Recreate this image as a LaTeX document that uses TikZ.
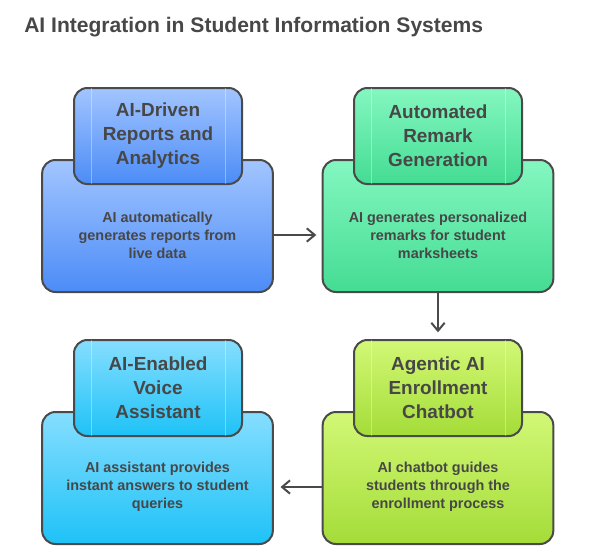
\documentclass[tikz,border=0pt]{standalone}
\usepackage{fontspec}
\setmainfont{Liberation Sans}
\usetikzlibrary{arrows.meta}
\definecolor{ink}{HTML}{474747}
\definecolor{edge}{HTML}{4A4A4A}
\definecolor{blueT}{HTML}{A2C5FF}
\definecolor{blueB}{HTML}{4C8CF7}
\definecolor{greenT}{HTML}{84F7C0}
\definecolor{greenB}{HTML}{44DC93}
\definecolor{limeT}{HTML}{D2F876}
\definecolor{limeB}{HTML}{A4DC38}
\definecolor{cyanT}{HTML}{86DEFF}
\definecolor{cyanB}{HTML}{1EC2F7}
\tikzset{
  bigbox/.style={draw=edge,line width=1.5pt,rounded corners=10pt,minimum width=173pt,minimum height=99pt},
  headbox/.style={bigbox,minimum width=126pt,minimum height=72pt,align=center,text=ink,font=\bfseries\fontsize{14.2}{18}\selectfont},
  bodytxt/.style={align=center,text=ink,font=\bfseries\fontsize{10.8}{13.5}\selectfont},
  flow/.style={-{Straight Barb[length=6pt,width=10pt]},line width=1.5pt,draw=edge,shorten >=4pt}
}
\begin{document}
\begin{tikzpicture}[x=0.75pt,y=-0.75pt]
        \useasboundingbox (0,0) rectangle (597,554);
        \node[anchor=base west,inner sep=0pt,text=ink,font=\bfseries\fontsize{15.8}{20}\selectfont] (title) at (24,32) {AI Integration in Student Information Systems};

        \node[bigbox,top color=blueT,bottom color=blueB] (rep) at (157.5,226) {};
        \node[headbox,top color=blueT,bottom color=blueB] (reph) at (158,136) {AI-Driven\\Reports and\\Analytics};
        \node[bodytxt] (rept) at (157.5,235) {AI automatically\\generates reports from\\live data};

        \node[bigbox,top color=greenT,bottom color=greenB] (rem) at (438,226) {};
        \node[headbox,top color=greenT,bottom color=greenB] (remh) at (438,136) {Automated\\Remark\\Generation};
        \node[bodytxt] (remt) at (438,235) {AI generates personalized\\remarks for student\\marksheets};

        \node[bigbox,top color=limeT,bottom color=limeB] (bot) at (438,478) {};
        \node[headbox,top color=limeT,bottom color=limeB] (both) at (438,388) {Agentic AI\\Enrollment\\Chatbot};
        \node[bodytxt] (bott) at (438,487) {AI chatbot guides\\students through the\\enrollment process};

        \node[bigbox,top color=cyanT,bottom color=cyanB] (voc) at (157.5,478) {};
        \node[headbox,top color=cyanT,bottom color=cyanB] (voch) at (158,388) {AI-Enabled\\Voice\\Assistant};
        \node[bodytxt] (voct) at (157.5,487) {AI assistant provides\\instant answers to student\\queries};

        \foreach \h in {reph,remh,both,voch}{
            \draw[white,opacity=0.35,line width=0.5pt]([xshift=13.5pt,yshift=-1pt]\h.north west)--([xshift=13.5pt,yshift=1pt]\h.south west);
            \draw[white,opacity=0.35,line width=0.5pt]([xshift=-13.5pt,yshift=-1pt]\h.north east)--([xshift=-13.5pt,yshift=1pt]\h.south east);
        }

        \draw[flow](rept-|rep.east)--(rept-|rem.west);
        \draw[flow,shorten >=5pt](rem.south)--(both.north);
        \draw[flow,shorten >=5pt](bott-|bot.west)--(voct-|voc.east);
    \end{tikzpicture}
\end{document}
